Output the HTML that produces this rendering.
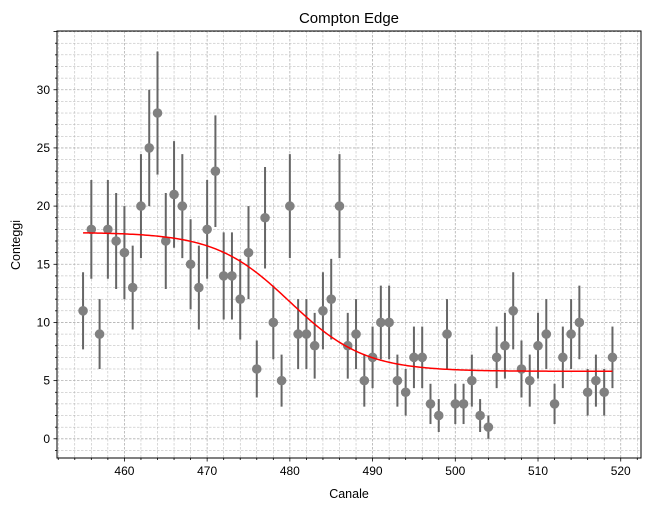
<!DOCTYPE html>
<html><head><meta charset="utf-8"><style>
body{margin:0;background:#fff;font-family:"Liberation Sans",sans-serif}
svg text{font-family:"Liberation Sans",sans-serif;fill:#000}
</style></head><body>
<svg id="chart" width="649" height="511" xmlns="http://www.w3.org/2000/svg">
<rect width="649" height="511" fill="#fff"/>
<g id="grid"></g>
<g id="bars"></g>
<g id="pts"></g>
<path id="fit" fill="none" stroke="#ff0000" stroke-width="1.5"/>
<rect x="57" y="31" width="584" height="427" fill="none" stroke="#000" stroke-width="1"/>
<g id="ticks"></g>
<text x="349" y="23" font-size="15" text-anchor="middle">Compton Edge</text>
<text x="349" y="498" font-size="12.5" text-anchor="middle">Canale</text>
<text x="20" y="245" font-size="12.5" text-anchor="middle" transform="rotate(-90 20 245)">Conteggi</text>
</svg>
<script>
const channels=[];for(let c=455;c<=519;c++)channels.push(c);
const counts=[11,18,9,18,17,16,13,20,25,28,17,21,20,15,13,18,23,14,14,12,16,6,19,10,5,20,9,9,8,11,12,20,8,9,5,7,10,10,5,4,7,7,3,2,9,3,3,5,2,1,7,8,11,6,5,8,9,3,7,9,10,4,5,4,7];
const xTicks=[460,470,480,490,500,510,520];
const yTicks=[0,5,10,15,20,25,30];
const fitParams=[5.8,11.95,480,4.5]; // base, step, center, width
const X0=57,X1=641,Y0=31,Y1=458;
const xmin=451.85,xmax=522.45,ymin=-1.65,ymax=35.05;
const sx=v=>X0+(v-xmin)/(xmax-xmin)*(X1-X0);
const sy=v=>Y1-(v-ymin)/(ymax-ymin)*(Y1-Y0);
const NS="http://www.w3.org/2000/svg";
function mk(t,a,p){const e=document.createElementNS(NS,t);for(const k in a)e.setAttribute(k,a[k]);p.appendChild(e);return e;}
const grid=document.getElementById('grid'),ticks=document.getElementById('ticks');
for(let v=452;v<=522;v+=2){const x=sx(v);const major=v%10===0;
 const l=mk('line',{x1:x,x2:x,y1:Y0,y2:Y1,stroke:'#b0b0b0','stroke-width':major?0.8:0.5,'stroke-dasharray':'2.5,1.5'},grid);
 
 const t=mk('line',{x1:x,x2:x,y1:Y1,y2:Y1+(major?3.5:2),stroke:'#000','stroke-width':0.8},ticks);
 }
for(let v=-1;v<=35;v++){const y=sy(v);const major=v%5===0;
 const l=mk('line',{x1:X0,x2:X1,y1:y,y2:y,stroke:'#b0b0b0','stroke-width':major?0.8:0.5,'stroke-dasharray':'2.5,1.5'},grid);
 
 const t=mk('line',{x1:X0,x2:X0-(major?3.5:2),y1:y,y2:y,stroke:'#000','stroke-width':0.8},ticks);
 }
xTicks.forEach(v=>{const t=mk('text',{x:sx(v),y:Y1+17,'font-size':12,'text-anchor':'middle'},ticks);t.textContent=v;
 });
yTicks.forEach(v=>{const t=mk('text',{x:X0-7,y:sy(v)+4,'font-size':12,'text-anchor':'end'},ticks);t.textContent=v;
 });
const bars=document.getElementById('bars'),pts=document.getElementById('pts');
channels.forEach((c,i)=>{const n=counts[i],e=Math.sqrt(n);
 const b=mk('line',{x1:sx(c),x2:sx(c),y1:sy(n-e),y2:sy(n+e),stroke:'#666','stroke-width':2},bars);
 
 const p=mk('circle',{cx:sx(c),cy:sy(n),r:4.8,fill:'#808080'},pts);
 });
const [b0,st,cen,w]=fitParams;let d='';
for(let x=channels[0];x<=channels[channels.length-1];x+=0.25){const y=b0+st/(1+Math.exp((x-cen)/w));d+=(d?'L':'M')+sx(x).toFixed(2)+','+sy(y).toFixed(2);}
document.getElementById('fit').setAttribute('d',d);
</script>
</body></html>
